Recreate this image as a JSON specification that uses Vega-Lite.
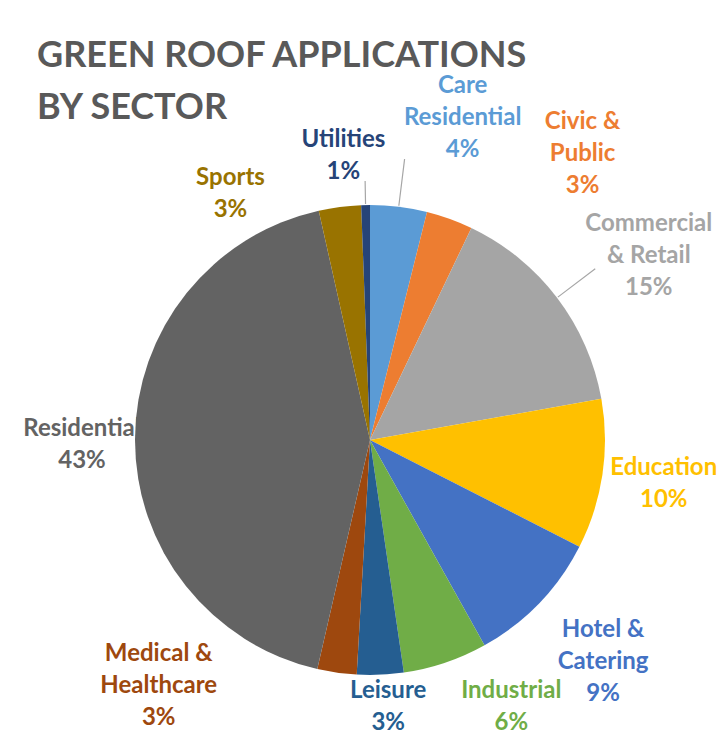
{
  "$schema": "https://vega.github.io/schema/vega-lite/v6.json",
  "width": 706,
  "height": 600,
  "autosize": "none",
  "padding": {"left": 17, "top": 140, "right": 0, "bottom": 0},
  "background": "white",
  "config": {"view": {"stroke": null}, "font": "Lato"},
  "title": {
    "text": ["GREEN ROOF APPLICATIONS", "BY SECTOR"],
    "anchor": "start",
    "frame": "group",
    "fontSize": 36,
    "font": "Lato",
    "fontWeight": "bold",
    "color": "#595959",
    "lineHeight": 52,
    "baseline": "alphabetic",
    "dx": 20,
    "dy": 103,
    "offset": 22
  },
  "data": {
    "values": [
      {"sector": "Care Residential", "label": "Care|Residential", "value": 3.9},
      {"sector": "Civic & Public", "label": "Civic &|Public", "value": 3.2},
      {"sector": "Commercial & Retail", "label": "Commercial|& Retail", "value": 15.1},
      {"sector": "Education", "label": "Education", "value": 10.3},
      {"sector": "Hotel & Catering", "label": "Hotel &|Catering", "value": 9.4},
      {"sector": "Industrial", "label": "Industrial", "value": 5.8},
      {"sector": "Leisure", "label": "Leisure", "value": 3.2},
      {"sector": "Medical & Healthcare", "label": "Medical &|Healthcare", "value": 2.7},
      {"sector": "Residential", "label": "Residential", "value": 42.9},
      {"sector": "Sports", "label": "Sports", "value": 2.9},
      {"sector": "Utilities", "label": "Utilities", "value": 0.6}
    ]
  },
  "transform": [
    {"stack": "value", "groupby": [], "sort": [{"field": "sector", "order": "ascending"}], "as": ["v0", "v1"]},
    {"calculate": "(datum.v0 + datum.v1) / 2", "as": "mid"},
    {"calculate": "datum.label + '|' + format(datum.value / 100, '.0%')", "as": "lbl"}
  ],
  "encoding": {
    "color": {
      "field": "sector",
      "type": "nominal",
      "legend": null,
      "scale": {
        "domain": ["Care Residential", "Civic & Public", "Commercial & Retail", "Education", "Hotel & Catering", "Industrial", "Leisure", "Medical & Healthcare", "Residential", "Sports", "Utilities"],
        "range": ["#5B9BD5", "#ED7D31", "#A5A5A5", "#FFC000", "#4472C4", "#70AD47", "#255E91", "#9E480E", "#636363", "#997300", "#264478"]
      }
    }
  },
  "layer": [
    {"transform": [{"filter": "datum.sector === 'Care Residential'"}], "mark": {"type": "text", "radius": 300, "dx": 56, "dy": -56, "align": "center", "baseline": "middle", "lineBreak": "|", "lineHeight": 32, "fontSize": 24, "fontWeight": "bold", "font": "Lato"}, "encoding": {"theta": {"field": "mid", "type": "quantitative", "scale": {"domain": [0, 100]}}, "text": {"field": "lbl"}}},
    {"transform": [{"filter": "datum.sector === 'Civic & Public'"}], "mark": {"type": "text", "radius": 300, "dx": 111, "dy": -36, "align": "center", "baseline": "middle", "lineBreak": "|", "lineHeight": 32, "fontSize": 24, "fontWeight": "bold", "font": "Lato"}, "encoding": {"theta": {"field": "mid", "type": "quantitative", "scale": {"domain": [0, 100]}}, "text": {"field": "lbl"}}},
    {"transform": [{"filter": "datum.sector === 'Commercial & Retail'"}], "mark": {"type": "text", "radius": 300, "dx": 40, "dy": -34, "align": "center", "baseline": "middle", "lineBreak": "|", "lineHeight": 32, "fontSize": 24, "fontWeight": "bold", "font": "Lato"}, "encoding": {"theta": {"field": "mid", "type": "quantitative", "scale": {"domain": [0, 100]}}, "text": {"field": "lbl"}}},
    {"transform": [{"filter": "datum.sector === 'Education'"}], "mark": {"type": "text", "radius": 300, "dx": -3, "dy": -16, "align": "center", "baseline": "middle", "lineBreak": "|", "lineHeight": 32, "fontSize": 24, "fontWeight": "bold", "font": "Lato"}, "encoding": {"theta": {"field": "mid", "type": "quantitative", "scale": {"domain": [0, 100]}}, "text": {"field": "lbl"}}},
    {"transform": [{"filter": "datum.sector === 'Hotel & Catering'"}], "mark": {"type": "text", "radius": 300, "dx": 17, "dy": -18, "align": "center", "baseline": "middle", "lineBreak": "|", "lineHeight": 32, "fontSize": 24, "fontWeight": "bold", "font": "Lato"}, "encoding": {"theta": {"field": "mid", "type": "quantitative", "scale": {"domain": [0, 100]}}, "text": {"field": "lbl"}}},
    {"transform": [{"filter": "datum.sector === 'Industrial'"}], "mark": {"type": "text", "radius": 300, "dx": 45, "dy": -33, "align": "center", "baseline": "middle", "lineBreak": "|", "lineHeight": 32, "fontSize": 24, "fontWeight": "bold", "font": "Lato"}, "encoding": {"theta": {"field": "mid", "type": "quantitative", "scale": {"domain": [0, 100]}}, "text": {"field": "lbl"}}},
    {"transform": [{"filter": "datum.sector === 'Leisure'"}], "mark": {"type": "text", "radius": 300, "dx": 5, "dy": -49, "align": "center", "baseline": "middle", "lineBreak": "|", "lineHeight": 32, "fontSize": 24, "fontWeight": "bold", "font": "Lato"}, "encoding": {"theta": {"field": "mid", "type": "quantitative", "scale": {"domain": [0, 100]}}, "text": {"field": "lbl"}}},
    {"transform": [{"filter": "datum.sector === 'Medical & Healthcare'"}], "mark": {"type": "text", "radius": 300, "dx": -169, "dy": -83, "align": "center", "baseline": "middle", "lineBreak": "|", "lineHeight": 32, "fontSize": 24, "fontWeight": "bold", "font": "Lato"}, "encoding": {"theta": {"field": "mid", "type": "quantitative", "scale": {"domain": [0, 100]}}, "text": {"field": "lbl"}}},
    {"transform": [{"filter": "datum.sector === 'Residential'"}], "mark": {"type": "text", "radius": 300, "dx": 12, "dy": -10, "align": "center", "baseline": "middle", "lineBreak": "|", "lineHeight": 32, "fontSize": 24, "fontWeight": "bold", "font": "Lato"}, "encoding": {"theta": {"field": "mid", "type": "quantitative", "scale": {"domain": [0, 100]}}, "text": {"field": "lbl"}}},
    {"transform": [{"filter": "datum.sector === 'Sports'"}], "mark": {"type": "text", "radius": 300, "dx": -101, "dy": 36, "align": "center", "baseline": "middle", "lineBreak": "|", "lineHeight": 32, "fontSize": 24, "fontWeight": "bold", "font": "Lato"}, "encoding": {"theta": {"field": "mid", "type": "quantitative", "scale": {"domain": [0, 100]}}, "text": {"field": "lbl"}}},
    {"transform": [{"filter": "datum.sector === 'Utilities'"}], "mark": {"type": "text", "radius": 300, "dx": -21, "dy": 0, "align": "center", "baseline": "middle", "lineBreak": "|", "lineHeight": 32, "fontSize": 24, "fontWeight": "bold", "font": "Lato"}, "encoding": {"theta": {"field": "mid", "type": "quantitative", "scale": {"domain": [0, 100]}}, "text": {"field": "lbl"}}},
    {"transform": [{"filter": "datum.sector === 'Utilities'"}], "mark": {"type": "arc", "radius": 259, "radius2": 236, "fill": null, "stroke": "#A6A6A6", "strokeWidth": 1.2}, "encoding": {"theta": {"field": "mid", "type": "quantitative", "scale": {"domain": [0, 100]}}, "theta2": {"field": "mid"}, "color": {"value": null}}},
    {"transform": [{"filter": "datum.sector === 'Care Residential' || datum.sector === 'Commercial & Retail'"}], "mark": {"type": "arc", "radius": 283, "radius2": 236, "fill": null, "stroke": "#A6A6A6", "strokeWidth": 1.2}, "encoding": {"theta": {"field": "mid", "type": "quantitative", "scale": {"domain": [0, 100]}}, "theta2": {"field": "mid"}, "color": {"value": null}}},
    {"mark": {"type": "arc", "radius": 235}, "encoding": {"theta": {"field": "v0", "type": "quantitative", "scale": {"domain": [0, 100]}}, "theta2": {"field": "v1"}}}
  ]
}
